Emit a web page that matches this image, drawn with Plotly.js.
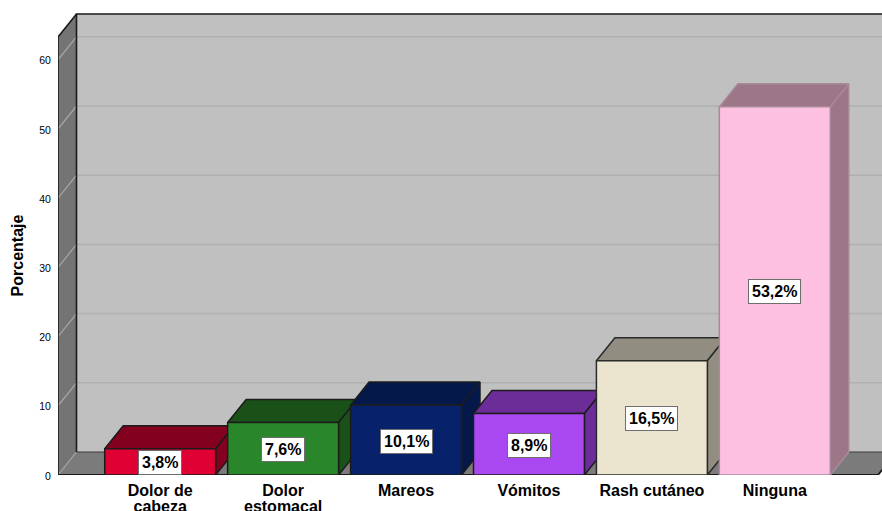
<!DOCTYPE html>
<html><head><meta charset="utf-8">
<script src="https://cdn.plot.ly/plotly-3.0.1.min.js"></script>
<style>html,body{margin:0;padding:0;background:#fff;overflow:hidden}</style>
</head><body><div id="chart" style="width:882px;height:511px"></div>
<script>
// Data
const categories = ["Dolor de<br>cabeza","Dolor<br>estomacal","Mareos","Vómitos","Rash cutáneo","Ninguna"];
const values = [3.8,7.6,10.1,8.9,16.5,53.2];
const labels = ["3,8%","7,6%","10,1%","8,9%","16,5%","53,2%"];
const frontColors = ["#df0034","#2a862a","#07226b","#a948f1","#ebe5d0","#fec0e0"];
const depthColors = ["#84001f","#1a5119","#05184a","#6c2d99","#918d80","#9d7788"];
const edgeColors = ["#1c1c1c","#1c1c1c","#1c1c1c","#1c1c1c","#2a2a2a","#a98a9a"];
const yTicks = [0,10,20,30,40,50,60];

// Pixel geometry expressed in axis units
const W=882,H=511,mL=57.5,mT=8,mB=36,pxPerUnit=6.92,pxPerCat=123,firstCatPx=159.75;
const xRange=[(mL-firstCatPx)/pxPerCat,(W-firstCatPx)/pxPerCat];
const yRange=[0,(H-mB-mT)/pxPerUnit];
const dx=18.5/pxPerCat, dy=23/pxPerUnit, halfBar=111/pxPerCat/2, wallTop=(475-37)/pxPerUnit;
const xL=xRange[0], xR=(878-firstCatPx)/pxPerCat, xFar=xR+dx;

const traces=[];
function poly(xs,ys,fill,line,w){traces.push({type:"scatter",mode:"lines",x:xs,y:ys,fill:"toself",fillcolor:fill,
  line:{color:line,width:w===undefined?1.5:w},hoverinfo:"skip",showlegend:false,cliponaxis:true});}
function seg(xs,ys,color,w){traces.push({type:"scatter",mode:"lines",x:xs,y:ys,line:{color:color,width:w},hoverinfo:"skip",showlegend:false});}

// Walls and floor
poly([xL+dx,xFar,xFar,xL+dx,xL+dx],[dy,dy,wallTop+dy,wallTop+dy,dy],"#c0c0c0","rgba(0,0,0,0)",0);
poly([xL,xL+dx,xL+dx,xL,xL],[0,dy,wallTop+dy,wallTop,0],"#747474","rgba(0,0,0,0)",0);
poly([xL,xR,xFar,xL+dx,xL],[0,0,dy,dy,0],"#7b7b7b","rgba(0,0,0,0)",0);
// Gridlines on side and back walls
yTicks.slice(1).forEach(v=>{
  seg([xL,xL+dx],[v,v+dy],"#a8a8a8",1.2);
  seg([xL+dx,xFar],[v+dy,v+dy],"#b0b0b0",1.5);
});
seg([xL,xL+dx],[0,dy],"#a0a0a0",1.2);
// Wall edges
seg([xL+dx,xFar],[dy,dy],"#3a3a3a",1.2);
seg([xL+dx,xL+dx,xFar],[dy,wallTop+dy,wallTop+dy],"#1a1a1a",1.6);
seg([xL,xL,xL+dx],[0,wallTop,wallTop+dy],"#1a1a1a",1.6);
seg([xL,xR,xFar],[0,0,dy],"#1a1a1a",1.8);

// Depth faces of the bars, left to right
values.forEach((v,i)=>{
  const a=i-halfBar,b=i+halfBar;
  poly([a,b,b+dx,a+dx,a],[v,v,v+dy,v+dy,v],depthColors[i],edgeColors[i]);
  poly([b,b+dx,b+dx,b,b],[0,dy,v+dy,v,0],depthColors[i],edgeColors[i]);
});

// Front faces on an overlaying axis so they sit above every depth face
traces.push({type:"bar",x:categories.map((c,i)=>i),y:values,yaxis:"y2",width:2*halfBar,
  marker:{color:frontColors,line:{color:edgeColors,width:1.5}},hoverinfo:"skip",showlegend:false});

const annotations=values.map((v,i)=>({x:i,y:v/2,xref:"x",yref:"y2",yshift:-1,text:"<b>"+labels[i]+"</b>",showarrow:false,
  font:{family:"Liberation Sans",size:16,color:"#000"},bgcolor:"#fff",bordercolor:"#6e6e6e",borderwidth:1,borderpad:3}));

Plotly.newPlot("chart",traces,{
  width:W,height:H,margin:{l:mL,r:0,t:mT,b:mB,pad:0},paper_bgcolor:"#fff",plot_bgcolor:"#fff",showlegend:false,bargap:0,
  font:{family:"Liberation Sans",color:"#000"},
  xaxis:{range:xRange,tickmode:"array",tickvals:categories.map((c,i)=>i),ticktext:categories.map(c=>"<b>"+c.replace("<br>","</b><br><b>")+"</b>"),
    tickangle:0,showgrid:false,zeroline:false,showline:false,ticks:"outside",ticklen:1,tickcolor:"rgba(0,0,0,0)",tickfont:{size:16,color:"#000"}},
  yaxis:{range:yRange,tickmode:"array",tickvals:yTicks,showgrid:false,zeroline:false,showline:false,
    ticks:"outside",ticklen:4,tickcolor:"rgba(0,0,0,0)",tickfont:{size:10.5,color:"#000"},
    title:{text:"<b>Porcentaje</b>",font:{size:16,color:"#000"},standoff:11}},
  yaxis2:{range:yRange,overlaying:"y",visible:false},
  annotations
},{displayModeBar:false,staticPlot:true}).then(gd=>{
  // SPSS-style tighter wrapped category labels and off-centre axis title
  gd.querySelectorAll(".xtick text tspan.line").forEach(t=>{ if(parseFloat(t.getAttribute("dy"))) t.setAttribute("dy","15.5px"); });
  const yt=gd.querySelector(".g-ytitle"); if(yt) yt.setAttribute("transform","translate(0,14)");
  const yl=gd.querySelector(".yaxislayer-above"); if(yl) yl.setAttribute("transform","translate(0,1)");
});
</script></body></html>
